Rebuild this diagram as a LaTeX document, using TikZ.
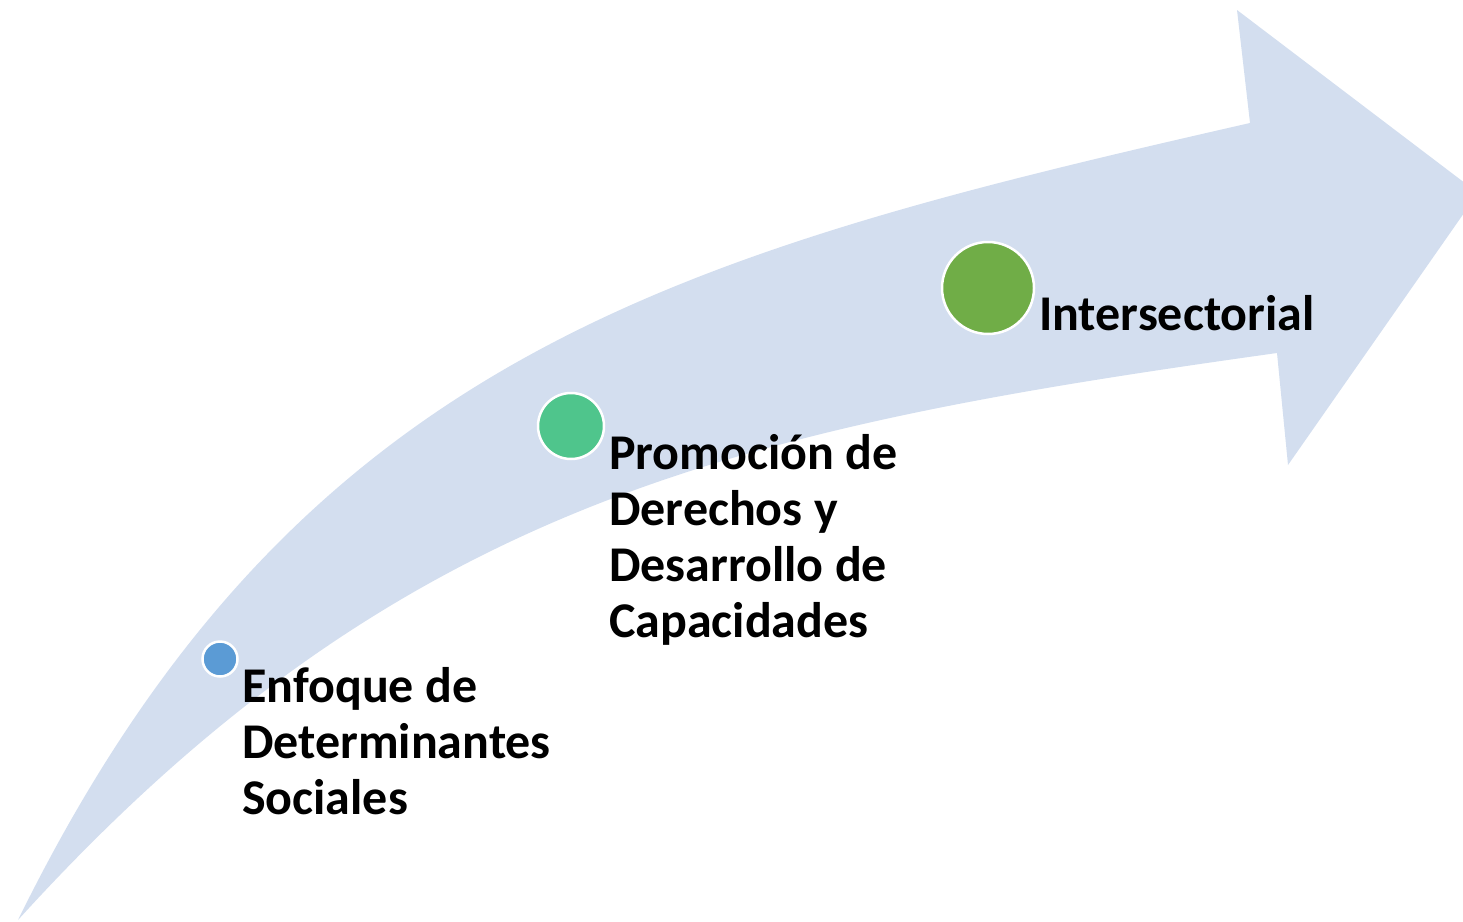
\documentclass[tikz,border=0pt]{standalone}
\usepackage{fontspec}
\setmainfont{Carlito}
\definecolor{bandblue}{HTML}{D3DEEF}
\definecolor{dotblue}{HTML}{5B9BD5}
\definecolor{dotgreen}{HTML}{4FC58C}
\definecolor{dotolive}{HTML}{70AD47}
\begin{document}
\begin{tikzpicture}[x=1pt,y=-1pt,
  dot/.style={circle,draw=white,line width=2.5pt,inner sep=0pt},
  lbl/.style={anchor=base west,align=left,inner sep=0pt,
    font=\fontsize{50}{56}\selectfont\bfseries}]
  \useasboundingbox (0,0) rectangle (1463,921);
  \clip (0,0) rectangle (1463,921);

  % curved arrow
  \fill[bandblue] (18,920) .. controls (295,356) and (675,254) .. (1250,123)
    -- (1237,10) -- (1478,193) -- (1288,465) -- (1277,353)
    .. controls (741.5,428) and (399.5,500) .. (18,920) -- cycle;

  \node[dot,fill=dotblue,minimum size=35pt] (dsocial) at (220,659) {};
  \node[dot,fill=dotgreen,minimum size=66pt] (dderechos) at (571,426) {};
  \node[dot,fill=dotolive,minimum size=92pt] (dinter) at (988,288) {};

  % base anchor sits on the last line
  \node[lbl] (tsocial) at (242,814) {Enfoque de\\Determinantes\\Sociales};
  \node[lbl] (tderechos) at (609,637) {Promoción de\\Derechos y\\Desarrollo de\\Capacidades};
  \node[lbl] (tinter) at (1039,330) {Intersectorial};
\end{tikzpicture}
\end{document}
